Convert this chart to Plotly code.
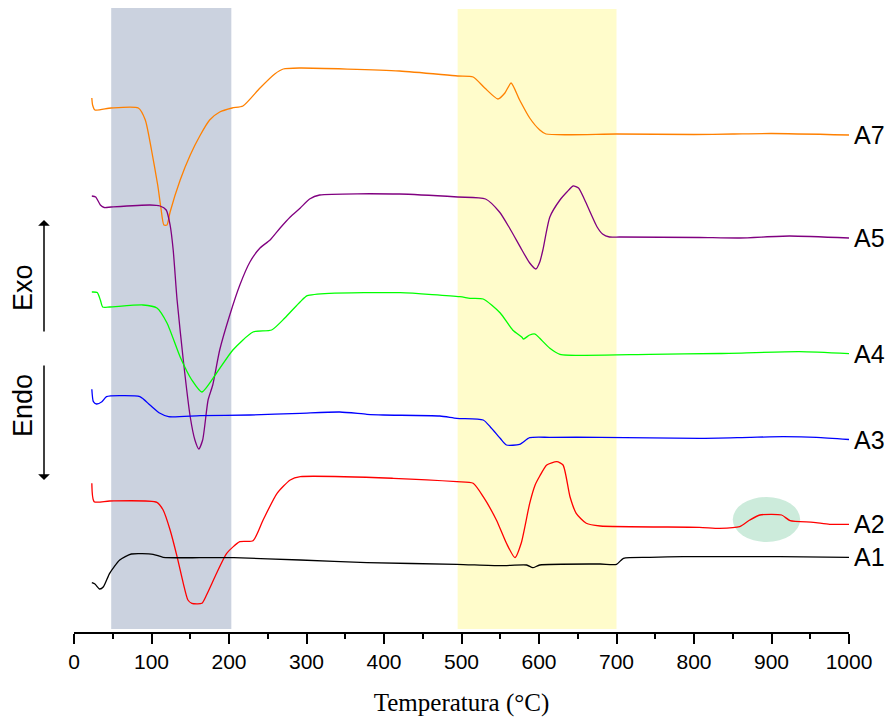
import plotly.graph_objects as go

# Temperature (°C) and heat flow (arbitrary units, offset per sample)
t_a7 = [23,24,27,48,83,92,100,108,112,116,120,124,137,150,163,175,188,204,218,240,259,270,291,420,495,515,530,547,556,564,575,588,601,609,700,800,850,900,1000]
h_a7 = [534,527,522,524,524,512,482,447,425,407,407,420,452,477,497,512,520,524,526,544,558,563,564,561,556,555,544,533,539,549,532,514,502,498,498,497.5,498,498.5,497]

t_a5 = [23,28,34,39,48,98,111,119,124,128,133,141,150,156,161,166,173,179,188,201,214,227,240,253,266,279,292,304,317,420,495,531,549,562,578,588,596,601,605,614,627,636,644,651,659,675,682,691,704,807,859,923,1000]
h_a5 = [436,435,427,424.5,425,427,426,422,407,382,332,272,215,192,183,192,232,247,282,317,347,370,384,392,404,415,424,433,437,438,435,433,420,404,382,369,363,370,382,415,432,440,446,444,432,405,398,395,395,394.5,394,396,394]

t_a4 = [23,30,34,37,46,89,107,120,137,152,165,184,205,231,255,272,292,301,330,421,498,511,528,550,566,578,580,588,595,601,614,627,743,833,936,1000]
h_a4 = [340,339.5,332,325,325,327,324,309,275,252,240,259,282,300,302,314,330.3,336.3,338.7,339.3,335.3,333.7,333,319,302,294.7,293,297,298,293.7,283.7,277.7,277.7,278.5,280.3,278.3]

t_a3 = [23,25,29,36,42,59,85,98,111,122,163,227,292,343,378,399,472,494,528,537,550,558,575,588,614,679,807,872,915,958,1000]
h_a3 = [242.7,230.3,228,230.3,235.3,236.3,235.3,227,218.7,215.3,216.3,217,218.7,220,217.7,217,216,213.7,212,205.3,193.7,187,187.7,194.3,194.7,194.7,193.7,194.7,195.3,194.7,192.5]

t_a2 = [23,26,46,107,115,124,133,141,147,152,165,171,184,197,214,231,244,262,279,292,412,494,515,528,545,558,569,577,588,595,601,610,623,631,640,648,661,679,807,833,859,872,885,913,924,954,975,1000]
h_a2 = [148.7,130.3,131,129.7,122,102,75.3,48.7,32,28.7,28.7,37,58.7,78.7,90.3,91.3,112,138.7,152,155.3,153.7,150.3,148.7,135.3,112,88.7,74.3,88.7,128.7,147,156,167,170.3,167,135.3,118.7,108.7,106,104.7,103.7,105.3,112,117,117,111.3,109.7,107.7,107.7]

t_a1 = [23,27,33,38,46,59,74,102,115,163,206,292,378,494,550,584,592,601,679,700,709,743,786,911,1000]
h_a1 = [49.3,48,43,45.3,58.7,72,78,77.7,74.7,74.3,74.3,72,69.3,67.7,66.3,67,64.3,67,68,67.7,73.7,74.7,75.3,75.3,74.7]

series_names = ["A7", "A5", "A4", "A3", "A2", "A1"]
series_t = [t_a7, t_a5, t_a4, t_a3, t_a2, t_a1]
series_h = [h_a7, h_a5, h_a4, h_a3, h_a2, h_a1]
series_colors = ["#FF8000", "#800080", "#00FF00", "#0000FF", "#FF0000", "#000000"]

x_ticks = [0, 100, 200, 300, 400, 500, 600, 700, 800, 900, 1000]

Y_TOP = 627

fig = go.Figure()
for name, t, h, c in zip(series_names, series_t, series_h, series_colors):
    fig.add_trace(go.Scatter(x=t, y=h, mode="lines", name=name,
                             line=dict(color=c, width=1.3, shape="spline", smoothing=0.6),
                             showlegend=False, hoverinfo="skip"))
    fig.add_annotation(x=1000, y=h[-1], xref="x", yref="y", text=name, showarrow=False,
                       xanchor="left", yanchor="middle", xshift=3,
                       font=dict(family="Liberation Sans, Arial", size=25, color="black"))

# shaded regions
fig.add_shape(type="rect", xref="x", yref="y", x0=48, x1=203, y0=3, y1=624,
              fillcolor="#CBD2DF", line=dict(width=0), layer="below")
fig.add_shape(type="rect", xref="x", yref="y", x0=495, x1=700, y0=3, y1=623,
              fillcolor="#FFFCCB", line=dict(width=0), layer="below")
fig.add_shape(type="circle", xref="x", yref="y", x0=850, x1=937, y0=90, y1=135,
              fillcolor="#CCEBDB", line=dict(width=0), layer="below")

def py(p):
    # page pixel row -> paper fraction
    return (632 - p) / Y_TOP

# Exo / Endo labels and arrows
fig.add_annotation(xref="paper", yref="paper", x=(23 - 74) / 775, y=py(288), text="Exo",
                   textangle=-90, showarrow=False, xanchor="center", yanchor="middle",
                   font=dict(family="Liberation Sans, Arial", size=27, color="black"))
fig.add_annotation(xref="paper", yref="paper", x=(23 - 74) / 775, y=py(406), text="Endo",
                   textangle=-90, showarrow=False, xanchor="center", yanchor="middle",
                   font=dict(family="Liberation Sans, Arial", size=27, color="black"))
fig.add_annotation(xref="paper", yref="paper", x=(44 - 74) / 775, y=py(220),
                   ax=0, ay=113, text="", showarrow=True, arrowhead=1, arrowsize=1.3,
                   arrowwidth=1.5, arrowcolor="black")
fig.add_annotation(xref="paper", yref="paper", x=(44 - 74) / 775, y=py(480),
                   ax=0, ay=-116, text="", showarrow=True, arrowhead=1, arrowsize=1.3,
                   arrowwidth=1.5, arrowcolor="black")

fig.update_layout(
    width=888, height=717,
    margin=dict(l=74, r=39, t=5, b=85),
    paper_bgcolor="white", plot_bgcolor="white",
    xaxis=dict(range=[0, 1000], tickvals=x_ticks, ticks="outside", ticklen=10, tickwidth=2,
               tickcolor="black", showline=True, linecolor="black", linewidth=2,
               showgrid=False, zeroline=False,
               minor=dict(ticks="outside", ticklen=5, tickwidth=2, tickcolor="black", dtick=50, showgrid=False),
               tickfont=dict(family="Liberation Sans, Arial", size=21, color="black"),
               title=dict(text="Temperatura (°C)", standoff=21,
                          font=dict(family="Liberation Serif, Times New Roman", size=25, color="black"))),
    yaxis=dict(range=[0, Y_TOP], visible=False, showgrid=False, zeroline=False),
)

fig.write_html("out.html",
               config={"displayModeBar": False, "staticPlot": True},
               post_script="document.body.style.margin='0px';document.body.style.overflow='hidden';")
